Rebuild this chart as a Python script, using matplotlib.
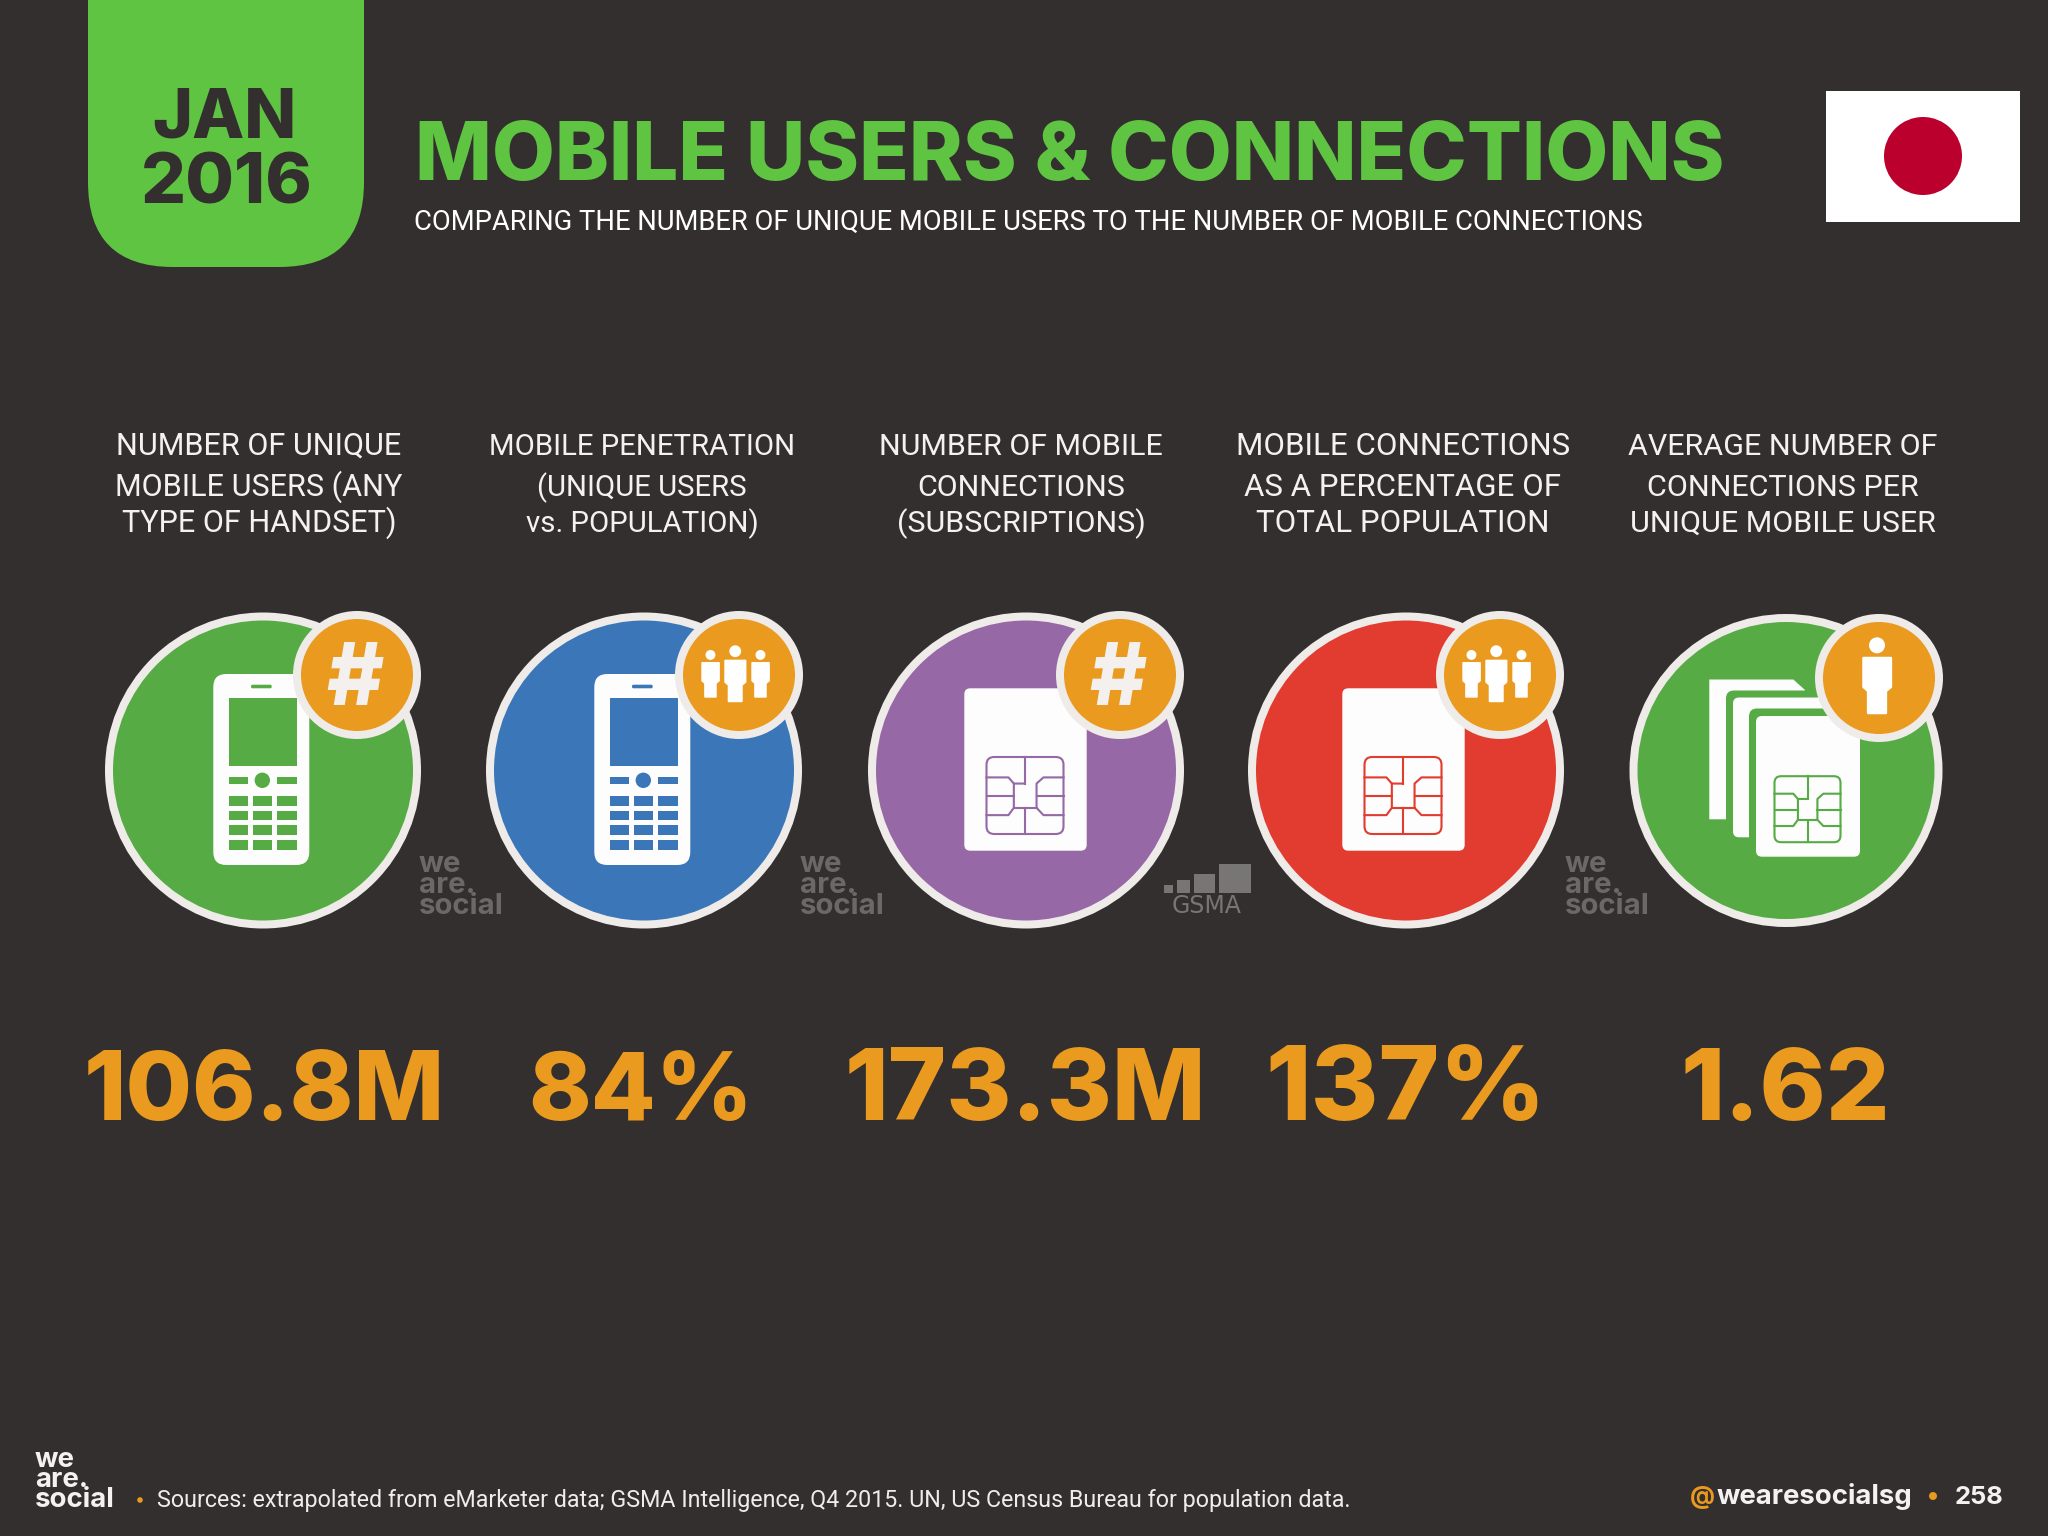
import matplotlib
matplotlib.use("Agg")
import matplotlib.pyplot as plt
from matplotlib.patches import Circle, FancyBboxPatch, Polygon, Rectangle

headers = [
    ["NUMBER OF UNIQUE", "MOBILE USERS (ANY", "TYPE OF HANDSET)"],
    ["MOBILE PENETRATION", "(UNIQUE USERS", "vs. POPULATION)"],
    ["NUMBER OF MOBILE", "CONNECTIONS", "(SUBSCRIPTIONS)"],
    ["MOBILE CONNECTIONS", "AS A PERCENTAGE OF", "TOTAL POPULATION"],
    ["AVERAGE NUMBER OF", "CONNECTIONS PER", "UNIQUE MOBILE USER"],
]
values = ["106.8M", "84%", "173.3M", "137%", "1.62"]
title = "MOBILE USERS & CONNECTIONS"
subtitle = "COMPARING THE NUMBER OF UNIQUE MOBILE USERS TO THE NUMBER OF MOBILE CONNECTIONS"
source = "Sources: extrapolated from eMarketer data; GSMA Intelligence, Q4 2015. UN, US Census Bureau for population data."

BG = "#332F2F"
GREEN = "#5FC441"
ORANGE = "#E99A1F"
RING = "#EEEBE9"
LOGO = "#6B6868"
DISC = ["#56AB44", "#3A76B8", "#9768A6", "#E23B30", "#56AB44"]
CX = [263, 644, 1026, 1406, 1786]
DISC_R = [158, 158, 158, 158, 156.5]
BADGE_X = [357, 739, 1120, 1500, 1879]
BADGE_Y = [675, 675, 675, 675, 678]
HEAD_X = [259, 642, 1021, 1403, 1783]
HEAD_W = [286, 307, 284, 333, 309]
VAL_X = [264, 641, 1025, 1406, 1785]
VAL_W = [362, 225, 362, 280, 210]
CY = 770.5

fig = plt.figure(figsize=(20.48, 15.36), dpi=100, facecolor=BG)
ax = fig.add_axes([0, 0, 1, 1])
ax.set_xlim(0, 2048)
ax.set_ylim(1536, 0)
ax.axis("off")
rend = fig.canvas.get_renderer()


def put(x, y, s, width=None, size=20, color="white", font="Roboto", weight="normal", ha="center", z=10, **kw):
    t = ax.text(x, y, s, color=color, family=font, weight=weight, ha=ha, va="baseline", fontsize=size, zorder=z, **kw)
    if width:
        w = t.get_window_extent(rend).width
        t.set_fontsize(size * width / w)
    return t


def rbox(x0, y0, x1, y1, r, color, z=3):
    ax.add_patch(FancyBboxPatch((x0 + r, y0 + r), x1 - x0 - 2 * r, y1 - y0 - 2 * r,
                                boxstyle="round,pad=%f,rounding_size=%f" % (r, r),
                                fc=color, ec="none", zorder=z))


def rect(x0, y0, x1, y1, color, z=4):
    ax.add_patch(Rectangle((x0, y0), x1 - x0, y1 - y0, fc=color, ec="none", zorder=z))


def disc(x, y, r, fill, z, edge=RING, lw=8):
    ax.add_patch(Circle((x, y), r - lw / 2, fc=fill, ec=edge, lw=lw * 0.72, zorder=z))


def phone(cx, color):
    cy = CY
    rbox(cx - 49.7, cy - 96.5, cx + 46.3, cy + 94.5, 13, "#FDFDFD")
    rect(cx - 34.3, cy - 72.8, cx + 33.7, cy - 4.5, color)
    rbox(cx - 12, cy - 85.8, cx + 8.7, cy - 82.2, 1.5, color, 4)
    rect(cx - 34.3, cy + 6.2, cx - 14.7, cy + 13.5, color)
    rect(cx + 13.7, cy + 6.2, cx + 33.7, cy + 13.5, color)
    ax.add_patch(Circle((cx - 0.7, cy + 9.8), 7.7, fc=color, ec="none", zorder=4))
    for top, bottom in [(25, 35), (40, 49.5), (54, 64), (69, 79)]:
        for left, right in [(-34.3, -14.7), (-10.3, 9.3), (13.7, 33.7)]:
            rect(cx + left, cy + top, cx + right, cy + bottom, color)


def chip(x, y, half, color):
    lw = 2.1 * 0.72
    ax.add_patch(FancyBboxPatch((x - half * 0.82, y - half * 0.82), half * 1.64, half * 1.64,
                                boxstyle="round,pad=%f,rounding_size=%f" % (half * 0.18, half * 0.2),
                                fc="none", ec=color, lw=lw, zorder=5))
    lines = [
        [(0, -1), (0, -0.31)],
        [(-1, -0.47), (-0.43, -0.47), (-0.29, -0.31), (0, -0.31)],
        [(-0.29, -0.31), (-0.29, 0.32), (-0.43, 0.51), (-1, 0.51)],
        [(-1, 0.02), (-0.29, 0.02)],
        [(1, -0.47), (0.48, -0.47), (0.30, -0.31), (0.30, 0.32), (0.48, 0.51), (1, 0.51)],
        [(0.30, 0.02), (1, 0.02)],
        [(-0.29, 0.32), (0.30, 0.32)],
        [(0, 0.32), (0, 1)],
    ]
    for ln in lines:
        ax.plot([x + p[0] * half for p in ln], [y + p[1] * half for p in ln], color=color, lw=lw, zorder=5)


def sim(cx, color):
    rbox(cx - 61.7, CY - 82.2, cx + 60.7, CY + 80.2, 6, "#FDFDFD")
    chip(cx - 1, CY + 25, 38.5, color)


def sim_stack(cx, color):
    cy = CY
    ax.add_patch(Polygon([(cx - 76.7, cy - 91), (cx + 7.3, cy - 91), (cx + 19, cy - 80.5), (cx + 19, cy + 48.8),
                          (cx - 76.7, cy + 48.8)], fc="#FDFDFD", ec="none", zorder=3))
    rbox(cx - 60, cy - 80, cx + 50, cy + 74, 8, color, 3)
    rbox(cx - 53, cy - 73, cx + 50, cy + 66.8, 6, "#FDFDFD", 3)
    rbox(cx - 37, cy - 62, cx + 80, cy + 94, 8, color, 3)
    rbox(cx - 30, cy - 54.5, cx + 74, cy + 86.2, 6, "#FDFDFD", 4)
    chip(cx + 21.5, cy + 38.7, 33, color)


def person(x, y, k, z=9):
    ax.add_patch(Circle((x - 2 * k, y - 32.7 * k), 8 * k, fc="white", ec="none", zorder=z))
    pts = [(-15.5, -20), (11.9, -20), (11.9, 9), (6.9, 13), (6.9, 35), (-10.9, 35), (-10.9, 13), (-15.5, 9)]
    ax.add_patch(Polygon([(x + p[0] * k, y + p[1] * k) for p in pts], fc="white", ec="white",
                         lw=2.5 * k * 0.72, joinstyle="round", zorder=z))


def logo(x, base, width, color):
    put(x, base, "we\nare.\nsocial", width=width, color=color, font="Inter", weight="bold", ha="left",
        linespacing=0.71)


# header
rbox(88, -120, 364, 267, 85, GREEN, 1)
put(224, 137, "JAN", width=145, color=BG, font="Inter", weight=800)
put(227, 204, "2016", width=172, color=BG, font="Inter", weight=800)
put(415, 180, title, width=1312, color=GREEN, font="Inter", weight=800, ha="left")
put(414, 230, subtitle, width=1227, font="Roboto", weight="normal", ha="left")
rect(1826, 91, 2020, 222, "white", 1)
ax.add_patch(Circle((1923, 156), 39, fc="#BC002D", ec="none", zorder=2))

# columns
for i in range(5):
    for j, base in enumerate([455, 496, 532]):
        t = put(HEAD_X[i], base, headers[i][j], width=HEAD_W[i], font="Roboto", weight="normal", color="#F4F2F0")
        if j == 0:
            size = t.get_fontsize()
        else:
            t.set_fontsize(size)
    disc(CX[i], CY, DISC_R[i], DISC[i], 2)
    disc(BADGE_X[i], BADGE_Y[i], 64, ORANGE, 8)
    put(VAL_X[i], 1120, values[i], width=VAL_W[i], color=ORANGE, font="Inter", weight=800)

phone(CX[0], DISC[0])
phone(CX[1], DISC[1])
sim(CX[2], DISC[2])
sim(CX[3] - 2, DISC[3])
sim_stack(CX[4], DISC[4])

for i in [0, 2]:
    put(BADGE_X[i] - 2, 705, "#", size=63, color="#F3F0EE", font="Inter", weight=800)
for i in [1, 3]:
    person(BADGE_X[i] - 2.3, BADGE_Y[i] + 0.4, 0.74)
    person(BADGE_X[i] - 27.3, BADGE_Y[i] + 0.2, 0.62)
    person(BADGE_X[i] + 22.7, BADGE_Y[i] + 0.2, 0.62)
person(BADGE_X[4], BADGE_Y[4], 1.0)

# watermarks
logo(419, 914, 85, LOGO)
logo(800, 914, 85, LOGO)
logo(1565, 914, 85, LOGO)
for x0, x1, top in [(1164, 1173, 885), (1177, 1190, 880), (1194, 1215, 874), (1219, 1251, 864)]:
    rect(x0, top, x1, 893, "#787675", 1)
put(1207, 913, "GSMA", size=17, color="#787675", font="DejaVu Sans", weight="normal")

# footer
logo(35, 1507, 80, "#F4F2F0")
ax.add_patch(Circle((140, 1500), 2.8, fc=ORANGE, ec="none", zorder=5))
put(157, 1507, source, width=1193, font="Roboto", weight="normal", color="#EFEDEB", ha="left")
put(1690, 1504, "@", width=25, color=ORANGE, font="Inter", weight="bold", ha="left")
put(1717, 1504, "wearesocialsg", width=196, color="#F4F2F0", font="Inter", weight="bold", ha="left")
ax.add_patch(Circle((1933, 1496), 4, fc=ORANGE, ec="none", zorder=5))
put(1955, 1504, "258", width=49, color="#F4F2F0", font="Inter", weight="bold", ha="left")

fig.savefig("out.png", dpi=100, facecolor=BG)
